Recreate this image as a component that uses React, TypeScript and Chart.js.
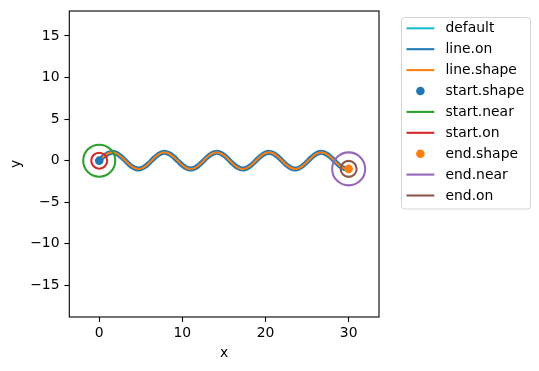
import React, { useEffect, useRef } from "react";
import { Chart, registerables } from "chart.js";

Chart.register(...registerables);

// Curve samples (x step 0.5 from 0 to 30)
const curveX: number[] = [
  0, 0.5, 1, 1.5, 2, 2.5, 3, 3.5, 4, 4.5, 5, 5.5, 6, 6.5, 7, 7.5, 8, 8.5, 9, 9.5,
  10, 10.5, 11, 11.5, 12, 12.5, 13, 13.5, 14, 14.5, 15, 15.5, 16, 16.5, 17, 17.5,
  18, 18.5, 19, 19.5, 20, 20.5, 21, 21.5, 22, 22.5, 23, 23.5, 24, 24.5, 25, 25.5,
  26, 26.5, 27, 27.5, 28, 28.5, 29, 29.5, 30,
];
const curveY: number[] = [
  0, 0.479, 0.841, 0.997, 0.909, 0.598, 0.141, -0.351, -0.757, -0.978, -0.959,
  -0.706, -0.279, 0.215, 0.657, 0.938, 0.989, 0.798, 0.412, -0.075, -0.544, -0.88,
  -1.0, -0.875, -0.537, -0.066, 0.42, 0.804, 0.991, 0.935, 0.65, 0.207, -0.288,
  -0.712, -0.961, -0.976, -0.751, -0.342, 0.15, 0.605, 0.913, 0.997, 0.837, 0.472,
  -0.009, -0.488, -0.846, -0.998, -0.906, -0.591, -0.132, 0.36, 0.763, 0.98, 0.956,
  0.699, 0.271, -0.224, -0.664, -0.941, -0.988,
];

const startPoint = { x: 0, y: 0 };
const endPoint = { x: 30, y: -0.988 };

const xTicks: number[] = [0, 10, 20, 30];
const yTicks: number[] = [-15, -10, -5, 0, 5, 10, 15];
const xLimits: number[] = [-3.6, 33.65];
const yLimits: number[] = [-18.8, 18.0];

const legendLabels: string[] = [
  "default",
  "line.on",
  "line.shape",
  "start.shape",
  "start.near",
  "start.on",
  "end.shape",
  "end.near",
  "end.on",
];
const legendKinds: string[] = ["line", "line", "line", "dot", "line", "line", "dot", "line", "line"];
const legendColors: string[] = [
  "#17becf",
  "#1f77b4",
  "#ff7f0e",
  "#1f77b4",
  "#2ca02c",
  "#d62728",
  "#ff7f0e",
  "#9467bd",
  "#8c564b",
];

const FONT = "'DejaVu Sans', Verdana, sans-serif";
const FS = 13.9;

export default function App() {
  const ref = useRef<HTMLCanvasElement | null>(null);

  useEffect(() => {
    if (!ref.current) return;
    const curve = curveX.map((x, i) => ({ x, y: curveY[i] }));

    const frame = {
      id: "frame",
      afterDatasetsDraw(chart: any) {
        const { ctx, chartArea: a } = chart;
        ctx.save();
        ctx.strokeStyle = "#000";
        ctx.lineWidth = 1.1;
        ctx.strokeRect(a.left, a.top, a.right - a.left, a.bottom - a.top);
        ctx.restore();
      },
    };

    const legend = {
      id: "customLegend",
      afterDraw(chart: any) {
        const ctx = chart.ctx;
        const left = 401.5,
          top = 17.5,
          w = 129,
          h = 191.5,
          r = 3;
        ctx.save();
        ctx.beginPath();
        ctx.moveTo(left + r, top);
        ctx.lineTo(left + w - r, top);
        ctx.quadraticCurveTo(left + w, top, left + w, top + r);
        ctx.lineTo(left + w, top + h - r);
        ctx.quadraticCurveTo(left + w, top + h, left + w - r, top + h);
        ctx.lineTo(left + r, top + h);
        ctx.quadraticCurveTo(left, top + h, left, top + h - r);
        ctx.lineTo(left, top + r);
        ctx.quadraticCurveTo(left, top, left + r, top);
        ctx.closePath();
        ctx.fillStyle = "rgba(255,255,255,0.8)";
        ctx.fill();
        ctx.strokeStyle = "rgba(204,204,204,0.8)";
        ctx.lineWidth = 1;
        ctx.stroke();
        ctx.font = `${FS}px ${FONT}`;
        ctx.textBaseline = "middle";
        ctx.textAlign = "left";
        legendLabels.forEach((lab, i) => {
          const cy = 28.3 + i * 20.9;
          ctx.strokeStyle = legendColors[i];
          ctx.fillStyle = legendColors[i];
          if (legendKinds[i] === "line") {
            ctx.lineWidth = 2.08;
            ctx.beginPath();
            ctx.moveTo(406.5, cy);
            ctx.lineTo(434.3, cy);
            ctx.stroke();
          } else {
            ctx.beginPath();
            ctx.arc(420.4, cy, 4.3, 0, Math.PI * 2);
            ctx.fill();
          }
          ctx.fillStyle = "#000";
          ctx.fillText(lab, 445.5, cy + 0.5);
        });
        ctx.restore();
      },
    };

    const n = 9;
    const circle = (label: string, pt: any, color: string, radius: number, i: number, filled: boolean) => ({
      label,
      data: [pt],
      showLine: false,
      pointRadius: radius,
      pointHoverRadius: radius,
      pointBorderWidth: filled ? 0 : 2.08,
      pointBorderColor: color,
      pointBackgroundColor: filled ? color : "rgba(0,0,0,0)",
      borderColor: color,
      backgroundColor: color,
      order: n - i,
    });

    const zeroPad = (s: any) => {
      s.paddingTop = 0;
      s.paddingBottom = 0;
      s.paddingLeft = 0;
      s.paddingRight = 0;
    };

    const chart = new Chart(ref.current, {
      type: "scatter",
      data: {
        datasets: [
          {
            label: legendLabels[0],
            data: curve,
            showLine: true,
            borderColor: legendColors[0],
            borderWidth: 2.08,
            pointRadius: 0,
            tension: 0.4,
            order: n - 0,
          },
          {
            label: legendLabels[1],
            data: curve,
            showLine: true,
            borderColor: legendColors[1],
            borderWidth: 5,
            pointRadius: 0,
            tension: 0.4,
            order: n - 1,
          },
          {
            label: legendLabels[2],
            data: curve,
            showLine: true,
            borderColor: legendColors[2],
            borderWidth: 2.08,
            pointRadius: 0,
            tension: 0.4,
            order: n - 2,
          },
          circle(legendLabels[3], startPoint, legendColors[3], 4.3, 3, true),
          circle(legendLabels[4], startPoint, legendColors[4], 16, 4, false),
          circle(legendLabels[5], startPoint, legendColors[5], 8, 5, false),
          circle(legendLabels[6], endPoint, legendColors[6], 4.3, 6, true),
          circle(legendLabels[7], endPoint, legendColors[7], 16.5, 7, false),
          circle(legendLabels[8], endPoint, legendColors[8], 8, 8, false),
        ] as any,
      },
      options: {
        animation: false,
        responsive: false,
        maintainAspectRatio: false,
        events: [],
        layout: { autoPadding: false, padding: { top: 11, right: 160, bottom: 0, left: 0 } },
        plugins: {
          legend: { display: false },
          tooltip: { enabled: false },
        },
        scales: {
          x: {
            type: "linear",
            min: xLimits[0],
            max: xLimits[1],
            afterBuildTicks: (s: any) => {
              s.ticks = xTicks.map((v) => ({ value: v }));
            },
            afterFit: (s: any) => {
              s.height = 54;
              zeroPad(s);
            },
            border: { display: false },
            grid: {
              drawOnChartArea: false,
              drawTicks: true,
              tickLength: 4.9,
              tickColor: "#000",
              tickWidth: 1.1,
            },
            ticks: {
              color: "#000",
              padding: 3.5,
              maxRotation: 0,
              autoSkip: false,
              font: { family: FONT, size: FS },
            },
            title: {
              display: true,
              text: "x",
              color: "#000",
              font: { family: FONT, size: FS },
              padding: { top: 0, bottom: 9.7 },
            },
          },
          y: {
            type: "linear",
            min: yLimits[0],
            max: yLimits[1],
            afterBuildTicks: (s: any) => {
              s.ticks = yTicks.map((v) => ({ value: v }));
            },
            afterFit: (s: any) => {
              s.width = 69.3;
              zeroPad(s);
            },
            border: { display: false },
            grid: {
              drawOnChartArea: false,
              drawTicks: true,
              tickLength: 4.9,
              tickColor: "#000",
              tickWidth: 1.1,
            },
            ticks: {
              color: "#000",
              padding: 4.9,
              autoSkip: false,
              font: { family: FONT, size: FS },
              callback: (v: any) => (Number(v) < 0 ? "\u2212" + Math.abs(Number(v)) : String(v)),
            },
            title: {
              display: true,
              text: "y",
              color: "#000",
              font: { family: FONT, size: FS },
              padding: { top: 7.7, bottom: 0 },
            },
          },
        },
      },
      plugins: [frame, legend],
    });
    return () => chart.destroy();
  }, []);

  return (
    <div style={{ position: "fixed", left: 0, top: 0, width: 539, height: 371, background: "#fff" }}>
      <canvas ref={ref} width={539} height={371} style={{ width: 539, height: 371, display: "block" }} />
    </div>
  );
}
